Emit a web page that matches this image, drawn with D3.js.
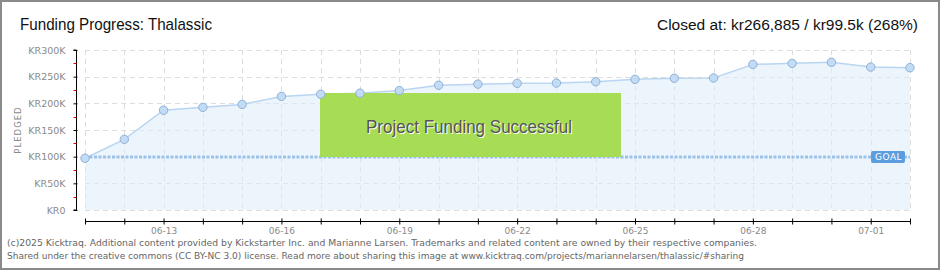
<!DOCTYPE html>
<html>
<head>
<meta charset="utf-8">
<script src="https://cdn.jsdelivr.net/npm/d3@7"></script>
<style>
  body { margin: 0; background: #fff; }
  svg { display: block; }
</style>
</head>
<body>
<div id="canvas"></div>
<script>
// daily pledged totals, 2025-06-11 .. 2025-07-02
var days = ['2025-06-11', '2025-06-12', '2025-06-13', '2025-06-14', '2025-06-15', '2025-06-16',
    '2025-06-17', '2025-06-18', '2025-06-19', '2025-06-20', '2025-06-21', '2025-06-22',
    '2025-06-23', '2025-06-24', '2025-06-25', '2025-06-26', '2025-06-27', '2025-06-28',
    '2025-06-29', '2025-06-30', '2025-07-01', '2025-07-02'];
var pledged = [97000, 132500, 187000, 192500, 198000, 213000,
    217000, 219000, 224000, 234000, 236000, 237500,
    238000, 240500, 245000, 247000, 247500, 273000,
    275000, 277000, 268000, 266885];
var goal = 99500;
var yTicks = [0, 50000, 100000, 150000, 200000, 250000, 300000];
var xLabelDays = ['2025-06-13', '2025-06-16', '2025-06-19', '2025-06-22', '2025-06-25', '2025-06-28', '2025-07-01'];

var svgWidth = 940;
var svgHeight = 270;
var gridColor = '#dddddd';
var pixelFont = '"DejaVu Sans", sans-serif';
var titleFont = '"Liberation Sans", sans-serif';

var parseDay = d3.timeParse('%Y-%m-%d');
var dates = days.map(parseDay);

var svg = d3.select('#canvas')
    .append('svg')
    .attr('width', svgWidth)
    .attr('height', svgHeight);

// outer frame
svg.append('rect')
    .attr('x', 1)
    .attr('y', 1)
    .attr('width', svgWidth - 2)
    .attr('height', svgHeight - 2)
    .attr('fill', '#fff')
    .attr('stroke', '#8a8a8a')
    .attr('stroke-width', 2);

var x = d3.scaleTime()
    .domain([dates[0], dates[dates.length - 1]])
    .range([85, 910]);
var y = d3.scaleLinear()
    .domain([0, 300000])
    .range([210, 50]);

// grid
svg.append('g')
    .selectAll('line')
    .data(yTicks)
    .enter()
    .append('line')
    .attr('x1', 85)
    .attr('x2', 910)
    .attr('y1', function (d) { return Math.round(y(d)) + 0.5; })
    .attr('y2', function (d) { return Math.round(y(d)) + 0.5; })
    .attr('stroke', gridColor)
    .attr('stroke-dasharray', '5,4');

svg.append('g')
    .selectAll('line')
    .data(dates)
    .enter()
    .append('line')
    .attr('x1', function (d) { return Math.round(x(d)) + 0.5; })
    .attr('x2', function (d) { return Math.round(x(d)) + 0.5; })
    .attr('y1', 50)
    .attr('y2', 210)
    .attr('stroke', gridColor)
    .attr('stroke-dasharray', '5,4');

// area + line
var area = d3.area()
    .x(function (d, i) { return x(dates[i]); })
    .y0(y(0))
    .y1(function (d) { return y(d); });
var line = d3.line()
    .x(function (d, i) { return x(dates[i]); })
    .y(function (d) { return y(d); });

svg.append('path')
    .datum(pledged)
    .attr('d', area)
    .attr('fill', '#dcebfa')
    .attr('fill-opacity', 0.55);

svg.append('path')
    .datum(pledged)
    .attr('d', line)
    .attr('fill', 'none')
    .attr('stroke', '#b9d5f2')
    .attr('stroke-width', 1.5);

// goal line
svg.append('line')
    .attr('x1', 85)
    .attr('x2', 910)
    .attr('y1', y(goal))
    .attr('y2', y(goal))
    .attr('stroke', '#9cc2ea')
    .attr('stroke-width', 3)
    .attr('stroke-dasharray', '3,1.5');

// success banner
svg.append('rect')
    .attr('x', 320)
    .attr('y', 93)
    .attr('width', 301)
    .attr('height', 64)
    .attr('fill', '#a4dc4f')
    .attr('fill-opacity', 0.97);

[['#fff', 1], ['#555', 0]].forEach(function (s) {
    svg.append('text')
        .attr('x', 366 + s[1])
        .attr('y', 133 + s[1])
        .attr('font-family', titleFont)
        .attr('font-size', '19px')
        .attr('textLength', 206)
        .attr('lengthAdjust', 'spacingAndGlyphs')
        .attr('fill', s[0])
        .text('Project Funding Successful');
});

// points
svg.append('g')
    .selectAll('circle')
    .data(pledged)
    .enter()
    .append('circle')
    .attr('cx', function (d, i) { return x(dates[i]); })
    .attr('cy', function (d) { return y(d); })
    .attr('r', 4.2)
    .attr('fill', '#c2dcf6')
    .attr('stroke', '#8fb0d4')
    .attr('stroke-width', 1);

// goal tag
svg.append('rect')
    .attr('x', 871)
    .attr('y', y(goal) - 6)
    .attr('width', 34)
    .attr('height', 12)
    .attr('rx', 2)
    .attr('fill', '#5b9ddf');
svg.append('text')
    .attr('x', 875)
    .attr('y', y(goal) + 3.5)
    .attr('font-family', pixelFont)
    .attr('font-size', '9px')
    .attr('letter-spacing', '0.5px')
    .attr('fill', '#fff')
    .text('GOAL');

// y axis
var yAxis = d3.axisLeft(y)
    .tickValues(yTicks)
    .tickSize(3)
    .tickPadding(8)
    .tickFormat(function (d) { return d === 0 ? 'KR0' : 'KR' + (d / 1000) + 'K'; });
var yG = svg.append('g')
    .attr('transform', 'translate(76.5,0)')
    .call(yAxis);
yG.select('.domain').attr('stroke', '#000').attr('d', 'M-3,' + y(300000) + 'H0V' + y(0) + 'H-3');
yG.selectAll('.tick line').attr('stroke', '#000').attr('x2', 1).attr('x1', -3);
yG.selectAll('.tick text')
    .attr('font-family', pixelFont)
    .attr('font-size', '9.5px')
    .attr('fill', '#8a8a8a');
yG.selectAll('.minor')
    .data(yTicks.slice(1).map(function (d) { return d - 25000; }))
    .enter()
    .append('line')
    .attr('class', 'minor')
    .attr('x1', -3)
    .attr('x2', 0)
    .attr('y1', function (d) { return Math.round(y(d)) + 0.5; })
    .attr('y2', function (d) { return Math.round(y(d)) + 0.5; })
    .attr('stroke', '#e00000');

svg.append('text')
    .attr('transform', 'translate(21,130) rotate(-90)')
    .attr('text-anchor', 'middle')
    .attr('font-family', pixelFont)
    .attr('font-size', '8.5px')
    .attr('letter-spacing', '1px')
    .attr('fill', '#8a8a8a')
    .text('PLEDGED');

// x axis
var xAxis = d3.axisBottom(x)
    .tickValues(dates)
    .tickSize(3)
    .tickPadding(3)
    .tickFormat(function (d) {
        var s = d3.timeFormat('%Y-%m-%d')(d);
        return xLabelDays.indexOf(s) >= 0 ? d3.timeFormat('%m-%d')(d) : '';
    });
var xG = svg.append('g')
    .attr('transform', 'translate(0,221.5)')
    .call(xAxis);
xG.select('.domain').attr('stroke', '#000').attr('d', 'M' + x(dates[0]) + ',0H' + x(dates[dates.length - 1]));
xG.selectAll('.tick line').attr('stroke', '#000').attr('y1', -3).attr('y2', 3);
xG.selectAll('.tick text')
    .attr('font-family', pixelFont)
    .attr('font-size', '9px')
    .attr('fill', '#8a8a8a');

// titles
svg.append('text')
    .attr('x', 20)
    .attr('y', 30)
    .attr('font-family', titleFont)
    .attr('font-size', '17px')
    .attr('textLength', 192)
    .attr('lengthAdjust', 'spacingAndGlyphs')
    .attr('fill', '#111')
    .text('Funding Progress: Thalassic');
svg.append('text')
    .attr('x', 918)
    .attr('y', 30)
    .attr('text-anchor', 'end')
    .attr('font-family', titleFont)
    .attr('font-size', '15.5px')
    .attr('fill', '#111')
    .text('Closed at: kr266,885 / kr99.5k (268%)');

// footer
var footer = ['(c)2025 Kicktraq. Additional content provided by Kickstarter Inc. and Marianne Larsen. Trademarks and related content are owned by their respective companies.',
    'Shared under the creative commons (CC BY-NC 3.0) license. Read more about sharing this image at www.kicktraq.com/projects/mariannelarsen/thalassic/#sharing'];
var footerWidths = [750, 737];
svg.append('g')
    .selectAll('text')
    .data(footer)
    .enter()
    .append('text')
    .attr('x', 7)
    .attr('y', function (d, i) { return 246 + i * 13; })
    .attr('font-family', '"DejaVu Sans", sans-serif')
    .attr('font-size', '9.5px')
    .attr('textLength', function (d, i) { return footerWidths[i]; })
    .attr('lengthAdjust', 'spacingAndGlyphs')
    .attr('fill', '#666')
    .text(function (d) { return d; });
</script>
</body>
</html>
